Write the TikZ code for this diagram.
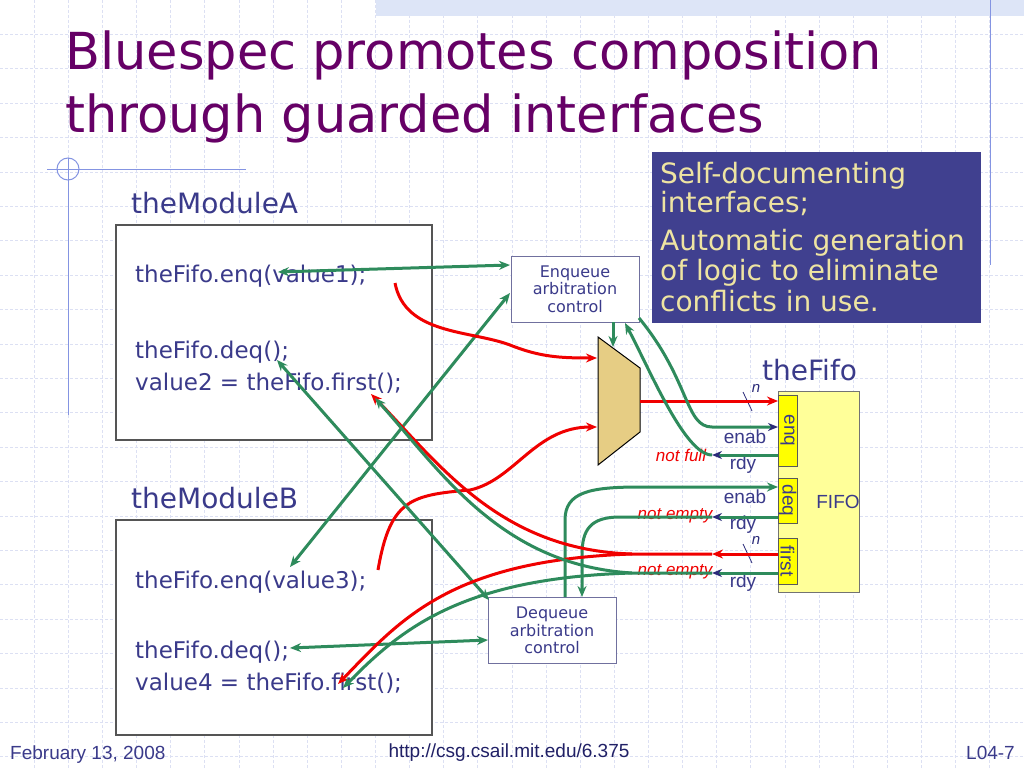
\documentclass[tikz,border=0pt]{standalone}
\usepackage{fontspec}
\setmainfont{DejaVu Sans}
\newfontfamily\arialfont{Liberation Sans}
\usetikzlibrary{arrows.meta,positioning}

\definecolor{titlepurple}{HTML}{660066}
\definecolor{txtblue}{HTML}{3A3A8A}
\definecolor{urlblue}{HTML}{202066}
\definecolor{wiregreen}{HTML}{2E8B5C}
\definecolor{wirered}{HTML}{F00000}
\definecolor{portnavy}{HTML}{2B2B7A}
\definecolor{muxtan}{HTML}{E6CD84}
\definecolor{fifoyellow}{HTML}{FFFF99}
\definecolor{portyellow}{HTML}{FFFF00}
\definecolor{infoblue}{HTML}{40408F}
\definecolor{infotext}{HTML}{EEE4A2}
\definecolor{gridcol}{HTML}{DCE0F3}
\definecolor{decoblue}{HTML}{8494E2}
\definecolor{bandblue}{HTML}{DDE5F7}
\definecolor{boxgray}{HTML}{555555}
\definecolor{arbgray}{HTML}{70709E}

\begin{document}
\begin{tikzpicture}[x=1pt,y=-1pt,
    titletext/.style={font=\fontsize{51}{60}\selectfont, text=titlepurple, inner sep=0pt},
    infobox/.style={fill=infoblue, minimum width=329pt, minimum height=171pt, inner sep=0pt},
    infoline/.style={font=\fontsize{28}{30}\selectfont, text=infotext, inner sep=0pt},
    modbox/.style={draw=boxgray, line width=1.3pt, fill=white, minimum width=316pt, minimum height=215pt, inner sep=0pt},
    modlabel/.style={font=\fontsize{28}{30}\selectfont, text=txtblue, inner sep=0pt},
    code/.style={font=\fontsize{23}{28}\selectfont, text=txtblue, inner sep=0pt},
    arbbox/.style={draw=arbgray, line width=1pt, fill=white, minimum width=128pt, minimum height=66pt, inner sep=0pt, align=center, text=txtblue, font=\fontsize{16}{17.5}\selectfont},
    muxshape/.style={draw=black, line width=1pt, fill=muxtan},
    fifobox/.style={draw=black!55, line width=0.8pt, fill=fifoyellow, minimum width=81pt, minimum height=201pt, inner sep=0pt},
    portbox/.style={draw=black!65, line width=0.8pt, fill=portyellow, minimum height=19pt, inner sep=0pt, rotate=-90, text=txtblue, font=\arialfont\fontsize{19}{20}\selectfont},
    portlab/.style={font=\arialfont\fontsize{19}{20}\selectfont, text=txtblue, inner sep=0pt},
    warn/.style={font=\arialfont\itshape\fontsize{17}{18}\selectfont, text=wirered, inner sep=0pt},
    nlab/.style={font=\arialfont\itshape\fontsize{15}{16}\selectfont, text=portnavy, inner sep=0pt},
    slash/.style={draw=portnavy, line width=0.8pt},
    foot/.style={font=\arialfont\fontsize{19}{20}\selectfont, text=txtblue, inner sep=0pt},
    wire/.style={draw=wiregreen, line width=3pt},
    rwire/.style={draw=wirered, line width=3pt},
    >={Stealth[length=11pt,width=9pt]},
    navytip/.style={-{Stealth[length=10pt,width=8pt,color=portnavy]}},
    gridline/.style={draw=gridcol, line width=0.8pt, dash pattern=on 3pt off 2pt},
    deco/.style={draw=decoblue, line width=1pt}]
  \useasboundingbox (0,0) rectangle (1024,768);

  % slide background
  \fill[white] (0,0) rectangle (1024,768);
  \foreach \i in {1,...,29} \draw[gridline] (\i*34.13,0) -- (\i*34.13,768);
  \foreach \j in {1,...,22} \draw[gridline] (0,\j*34.4) -- (1024,\j*34.4);
  \fill[bandblue] (376,0) rectangle (1024,16);
  \draw[deco] (990,0) -- (990,265);
  \draw[deco] (47,169) -- (246,169);
  \draw[deco] (68,158) -- (68,415);
  \draw[deco] (68,169) circle (11);

  % title
  \node[titletext, anchor=base west] at (65,70) (title1) {Bluespec promotes composition};
  \node[titletext, anchor=base west] at (65,132) (title2) {through guarded interfaces};

  % remark
  \node[infobox, anchor=north west] at (652,152) (info) {};
  \node[infoline, anchor=base west] at (660,183) (info1) {Self-documenting};
  \node[infoline, anchor=base west] at (660,212) (info2) {interfaces;};
  \node[infoline, anchor=base west] at (660,250) (info3) {Automatic generation};
  \node[infoline, anchor=base west] at (660,280) (info4) {of logic to eliminate};
  \node[infoline, anchor=base west] at (660,311) (info5) {conflicts in use.};

  % the two modules
  \node[modlabel, anchor=base west] at (131,213) (labA) {theModuleA};
  \node[modbox] at (274,332.5) (modA) {};
  \node[code, anchor=base west] at (135,282) (a1) {theFifo.enq(value1);};
  \node[code, anchor=base west] at (135,358) (a2) {theFifo.deq();};
  \node[code, anchor=base west] at (135,390) (a3) {value2 = theFifo.first();};

  \node[modlabel, anchor=base west] at (131,508) (labB) {theModuleB};
  \node[modbox] at (274,627.5) (modB) {};
  \node[code, anchor=base west] at (135,588) (b1) {theFifo.enq(value3);};
  \node[code, anchor=base west] at (135,658) (b2) {theFifo.deq();};
  \node[code, anchor=base west] at (135,690) (b3) {value4 = theFifo.first();};

  % arbitration
  \node[arbbox] at (575,289) (enqarb) {Enqueue\\arbitration\\control};
  \node[arbbox] at (552,630.5) (deqarb) {Dequeue\\arbitration\\control};
  \draw[muxshape] (598,337) -- (640,368) -- (640,432) -- (598,465) -- cycle;

  % the fifo
  \node[modlabel, anchor=base west] at (762,380) (labF) {theFifo};
  \node[fifobox] at (818.5,491.5) (fifo) {};
  \node[portlab] at (838,502) (fifotxt) {FIFO};
  \node[portbox, minimum width=71pt] at (787.5,430.5) (penq) {enq};
  \node[portbox, minimum width=45pt] at (787.5,500.5) (pdeq) {deq};
  \node[portbox, minimum width=46pt] at (787.5,561) (pfirst) {first};
  \node[portlab] at (745,437) (le1) {enab};
  \node[portlab] at (743,465) (lr1) {rdy};
  \node[portlab] at (745,497) (le2) {enab};
  \node[portlab] at (743,525) (lr2) {rdy};
  \node[portlab] at (743,583) (lr3) {rdy};
  \node[warn] at (681,455) (nfull) {not full};
  \node[warn] at (675,516) (nemp1) {not empty};
  \node[warn] at (675,572) (nemp2) {not empty};
  \node[nlab] at (756,388) (n1) {n};
  \node[nlab] at (756,540) (n2) {n};

  % pins
  \coordinate (muxin1) at (597,358);
  \coordinate (muxin2) at (597,427);
  \coordinate (muxout) at (640,401);
  \coordinate (muxsel) at (613,347);
  \coordinate (enqD) at (778,401);
  \coordinate (enqE) at (778,427);
  \coordinate (enqEt) at (712,427);
  \coordinate (enqR) at (778,455);
  \coordinate (enqRt) at (712,455);
  \coordinate (deqE) at (778,487);
  \coordinate (deqR) at (778,517);
  \coordinate (deqRt) at (712,517);
  \coordinate (firD) at (778,554);
  \coordinate (firDt) at (712,554);
  \coordinate (firDj) at (632,554);
  \coordinate (firR) at (778,573);
  \coordinate (firRt) at (712,573);
  \coordinate (firRj) at (632,573);
  \coordinate (a1g) at (278,272);
  \coordinate (a1r) at (395,283);
  \coordinate (a2g) at (277,360);
  \coordinate (a3g) at (375,398);
  \coordinate (a3r) at (371,394);
  \coordinate (b1g) at (290,567);
  \coordinate (b1r) at (378,570);
  \coordinate (b2g) at (290,648);
  \coordinate (b3g) at (343,688);
  \coordinate (b3r) at (338,684);
  \coordinate (eqv1) at (510,265);
  \coordinate (eqv3) at (510,293);
  \coordinate (eqsel) at (613,322);
  \coordinate (eqfull) at (625,323);
  \coordinate (eqenab) at (639,318);
  \coordinate (dqd1) at (489,600);
  \coordinate (dqd4) at (488,640);
  \coordinate (dqenab) at (565,597);
  \coordinate (dqempty) at (582,597);

  % bus width marks
  \draw[slash] (743,392) -- (752,411);
  \draw[slash] (743,544) -- (752,563);

  % enqueue side
  \draw[wire,<->] (a1g) -- (eqv1);
  \draw[wire,<->] (b1g) -- (eqv3);
  \draw[wire,->] (eqsel) -- (muxsel);
  \draw[rwire,->] (a1r) .. controls (405,335) and (470,330) .. (510,345) .. controls (540,357) and (560,358) .. (muxin1);
  \draw[rwire,->] (b1r) .. controls (390,500) and (410,495) .. (470,490) .. controls (515,480) and (535,427) .. (muxin2);
  \draw[rwire,->] (muxout) -- (enqD);
  \draw[wire,navytip] (eqenab) .. controls (690,380) and (685,427) .. (enqEt) -- (enqE);
  \draw[wire,navytip] (enqR) -- (enqRt);
  \draw[wire,->] (enqRt) .. controls (685,455) and (650,370) .. (eqfull);

  % dequeue side
  \draw[wire,<->] (a2g) -- (dqd1);
  \draw[wire,<->] (b2g) -- (dqd4);
  \draw[wire,->] (dqenab) -- (565,520) .. controls (565,492) and (590,487) .. (640,487) -- (deqE);
  \draw[wire,navytip] (deqR) -- (deqRt);
  \draw[wire,->] (deqRt) -- (620,517) .. controls (590,517) and (582,530) .. (582,555) -- (dqempty);
  \draw[rwire,->] (firD) -- (firDt);
  \draw[rwire,->] (firDt) -- (firDj) .. controls (500,550) and (440,465) .. (a3r);
  \draw[rwire,->] (firDj) .. controls (450,560) and (400,620) .. (b3r);
  \draw[wire,navytip] (firR) -- (firRt);
  \draw[wire,->] (firRt) -- (firRj) .. controls (500,565) and (440,470) .. (a3g);
  \draw[wire,->] (firRj) .. controls (460,578) and (400,630) .. (b3g);

  % footer
  \node[foot, anchor=base west] at (10,759) (date) {February 13, 2008};
  \node[foot, anchor=base, text=urlblue] at (509,757) (url) {http://csg.csail.mit.edu/6.375};
  \node[foot, anchor=base east] at (1015,759) (slide) {L04-7};
\end{tikzpicture}
\end{document}
